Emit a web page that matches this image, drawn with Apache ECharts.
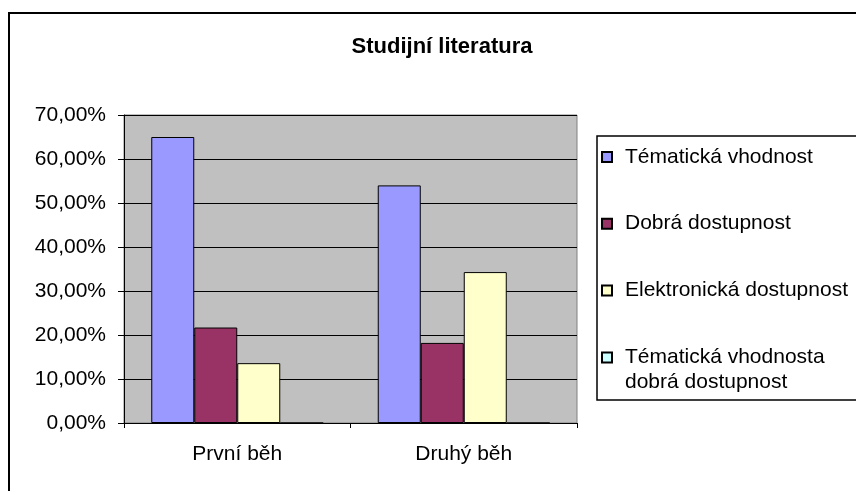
<!DOCTYPE html>
<html>
<head>
<meta charset="utf-8">
<script src="https://cdn.jsdelivr.net/npm/echarts@6/dist/echarts.min.js"></script>
<style>
  html, body { margin: 0; padding: 0; background: #fff; }
  #chart { width: 856px; height: 491px; }
</style>
</head>
<body>
<div id="chart"></div>
<script>
const categories = ['První běh', 'Druhý běh'];
const seriesNames = ['Tématická vhodnost', 'Dobrá dostupnost', 'Elektronická dostupnost', 'Tématická vhodnosta\ndobrá dostupnost'];
const tematicka = [0.65, 0.54];
const dobra = [0.217, 0.182];
const elektronicka = [0.136, 0.343];
const tematickaDobra = [0, 0];
const colors = ['#9999FF', '#993366', '#FFFFCC', '#CCFFFF'];

const font = "'Liberation Sans', Arial, sans-serif";

const chart = echarts.init(document.getElementById('chart'));

function bar(name, data, color) {
  return {
    name: name,
    type: 'bar',
    data: data,
    barWidth: 43,
    barGap: '0%',
    itemStyle: { color: color, borderColor: '#000', borderWidth: 1 }
  };
}

const option = {
  animation: false,
  backgroundColor: '#fff',
  title: {
    text: 'Studijní literatura',
    left: 437,
    top: 31,
    textAlign: 'center',
    textStyle: { fontFamily: font, fontSize: 22, fontWeight: 'bold', color: '#000' }
  },
  graphic: [
    { type: 'rect', shape: { x: 9, y: 13, width: 900, height: 600 }, style: { fill: null, stroke: '#000', lineWidth: 2 } },
    { type: 'rect', shape: { x: 597, y: 136, width: 300, height: 264 }, style: { fill: null, stroke: '#000', lineWidth: 1.5 } }
  ],
  legend: [
    {
      data: seriesNames.slice(0, 3),
      orient: 'vertical',
      left: 601,
      top: 145,
      padding: 0,
      itemWidth: 10,
      itemHeight: 10,
      itemGap: 42.7,
      icon: 'rect',
      selectedMode: false,
      textStyle: { fontFamily: font, fontSize: 21, color: '#000', lineHeight: 24, padding: [0, 0, 0, 8] }
    },
    {
      data: seriesNames.slice(3),
      orient: 'vertical',
      left: 601,
      top: 320,
      padding: 0,
      itemWidth: 10,
      itemHeight: 10,
      icon: 'rect',
      selectedMode: false,
      formatter: function (name) { return ' \n' + name; },
      textStyle: { fontFamily: font, fontSize: 21, color: '#000', lineHeight: 25, padding: [0, 0, 0, 8] }
    }
  ],
  grid: {
    left: 124,
    right: 279,
    top: 115,
    bottom: 68,
    show: true,
    backgroundColor: '#C0C0C0',
    borderColor: '#808080',
    borderWidth: 1
  },
  xAxis: {
    type: 'category',
    data: categories,
    axisLine: { lineStyle: { color: '#000', width: 1 } },
    axisTick: { show: true, length: 5, lineStyle: { color: '#000' } },
    axisLabel: { fontFamily: font, fontSize: 21, color: '#000', margin: 21 }
  },
  yAxis: {
    type: 'value',
    min: 0,
    max: 0.7,
    interval: 0.1,
    axisLine: { show: true, lineStyle: { color: '#000', width: 1 } },
    axisTick: { show: true, length: 6, lineStyle: { color: '#000' } },
    splitLine: { lineStyle: { color: '#000', width: 1 } },
    axisLabel: {
      fontFamily: font,
      fontSize: 21,
      color: '#000',
      margin: 18,
      formatter: function (v) { return (v * 100).toFixed(2).replace('.', ',') + '%'; }
    }
  },
  series: [
    bar(seriesNames[0], tematicka, colors[0]),
    bar(seriesNames[1], dobra, colors[1]),
    bar(seriesNames[2], elektronicka, colors[2]),
    bar(seriesNames[3], tematickaDobra, colors[3])
  ]
};

chart.setOption(option);
</script>
</body>
</html>
